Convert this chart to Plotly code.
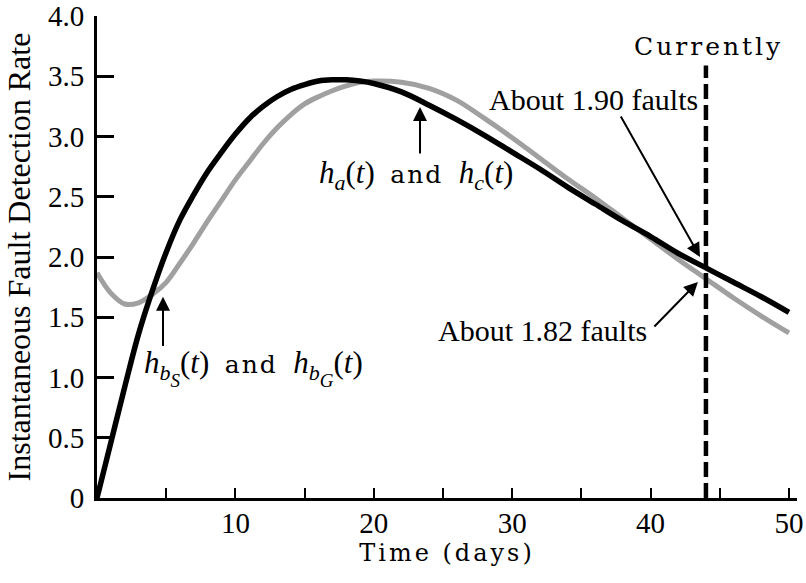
import plotly.graph_objects as go

# Time axis (days)
t_days = [0, 1, 2, 3, 4, 5, 6, 7, 8, 9, 10, 11, 12, 13, 14, 15, 16, 17, 18, 19, 20,
          22, 24, 26, 28, 30, 32, 34, 36, 38, 40, 42, 44, 46, 48, 50]

# h_a(t) and h_c(t)  (thick black)
h_ac = [0.0, 0.46, 0.92, 1.36, 1.72, 2.04, 2.31, 2.52, 2.71, 2.87, 3.02, 3.15, 3.25, 3.33, 3.39,
        3.43, 3.46, 3.47, 3.47, 3.46, 3.44,
        3.37, 3.26, 3.14, 3.01, 2.87, 2.73, 2.58, 2.44, 2.30, 2.17, 2.03, 1.91, 1.79, 1.67, 1.54]

# h_bS(t) and h_bG(t)  (gray)
h_b = [1.87, 1.70, 1.61, 1.62, 1.69, 1.79, 1.95, 2.12, 2.30, 2.47, 2.64, 2.79, 2.94, 3.07, 3.18,
       3.27, 3.33, 3.38, 3.42, 3.45, 3.46,
       3.45, 3.40, 3.30, 3.15, 2.99, 2.82, 2.65, 2.49, 2.32, 2.15, 1.98, 1.82, 1.66, 1.51, 1.37]

current_day = 44.0
x_ticks = [5, 10, 15, 20, 25, 30, 35, 40, 45, 50]
x_ticktext = ["", "10", "", "20", "", "30", "", "40", "", "50"]
y_ticks = [0, 0.5, 1.0, 1.5, 2.0, 2.5, 3.0, 3.5, 4.0]
y_ticktext = ["0", "0.5", "1.0", "1.5", "2.0", "2.5", "3.0", "3.5", "4.0"]

SERIF = "Liberation Serif"
WIDE = "font-family:DejaVu Serif;letter-spacing:2px"

fig = go.Figure()
fig.add_trace(go.Scatter(x=t_days, y=h_b, mode="lines", line=dict(color="#a0a0a0", width=5, shape="spline"),
                         showlegend=False, hoverinfo="skip"))
fig.add_trace(go.Scatter(x=t_days, y=h_ac, mode="lines", line=dict(color="black", width=5.5, shape="spline"),
                         showlegend=False, hoverinfo="skip"))
fig.add_trace(go.Scatter(x=[current_day, current_day], y=[0, 3.59], mode="lines",
                         line=dict(color="black", width=4.5, dash="15px,6px"),
                         showlegend=False, hoverinfo="skip"))

ann = []
def arrow(x, y, ax, ay):
    ann.append(dict(x=x, y=y, ax=ax, ay=ay, xref="x", yref="y", axref="x", ayref="y",
                    text="", showarrow=True, arrowhead=2, arrowsize=1.4, arrowwidth=2, arrowcolor="black"))

arrow(4.77, 1.67, 4.77, 1.25)
arrow(23.34, 3.245, 23.34, 2.846)
arrow(43.57, 2.0, 37.79, 3.178)
arrow(43.42, 1.793, 40.17, 1.411)

def label(x, y, text, size, family=SERIF, xanchor="center"):
    ann.append(dict(x=x, y=y, xref="x", yref="y", text=text, showarrow=False, xanchor=xanchor,
                    yanchor="middle", font=dict(family=family, size=size, color="black")))

def sub(s, px):
    return f'<sub><span style="font-size:{px}px"><i>{s}</i></span></sub>'

def subsub(s1, s2):
    return (f'<sub><span style="font-size:22px"><i>{s1}</i></span>'
            f'<span style="font-size:19px;baseline-shift:-7px"><i>{s2}</i></span></sub>')

AND = f'<span style="{WIDE};letter-spacing:2px;font-size:25px">and</span>'

label(44.22, 3.743, f'<span style="{WIDE};letter-spacing:3px">Currently</span>', 25)
label(35.9, 3.303, "About 1.90 faults", 30)
label(32.2, 1.394, "About 1.82 faults", 30)
label(3.25, 1.08, f'<i>h</i>{subsub("b", "S")}(<i>t</i>)  {AND}  <i>h</i>{subsub("b", "G")}(<i>t</i>)',
      31, xanchor="left")
label(15.9, 2.68, f'<i>h</i>{sub("a", 22)}(<i>t</i>)  {AND}  <i>h</i>{sub("c", 22)}(<i>t</i>)',
      31, xanchor="left")

fig.update_layout(
    width=806, height=583,
    margin=dict(l=97, r=9, t=16, b=85),
    paper_bgcolor="white", plot_bgcolor="white",
    annotations=ann,
    xaxis=dict(range=[0, 50.58], showgrid=False, zeroline=False, showline=True, linecolor="black",
               linewidth=2.5, ticks="inside", ticklen=10, tickwidth=1.5, tickcolor="black",
               tickvals=x_ticks, ticktext=x_ticktext, ticklabelstandoff=-3, automargin=False,
               tickfont=dict(family=SERIF, size=29, color="black"),
               title=dict(text=f'<span style="{WIDE};letter-spacing:3px">Time (days)</span>', standoff=4,
                          font=dict(family=SERIF, size=24, color="black"))),
    yaxis=dict(range=[0, 4.0], showgrid=False, zeroline=False, showline=True, linecolor="black",
               linewidth=3, ticks="inside", ticklen=17, tickwidth=2.5, tickcolor="black",
               tickvals=y_ticks, ticktext=y_ticktext, ticklabelstandoff=4, automargin=False,
               tickfont=dict(family=SERIF, size=29, color="black"),
               title=dict(text="Instantaneous Fault Detection Rate", standoff=8,
                          font=dict(family=SERIF, size=32, color="black"))),
)

fig.write_html("out.html", config={"displayModeBar": False},
               post_script="document.body.style.margin='0';document.body.style.overflow='hidden';")
